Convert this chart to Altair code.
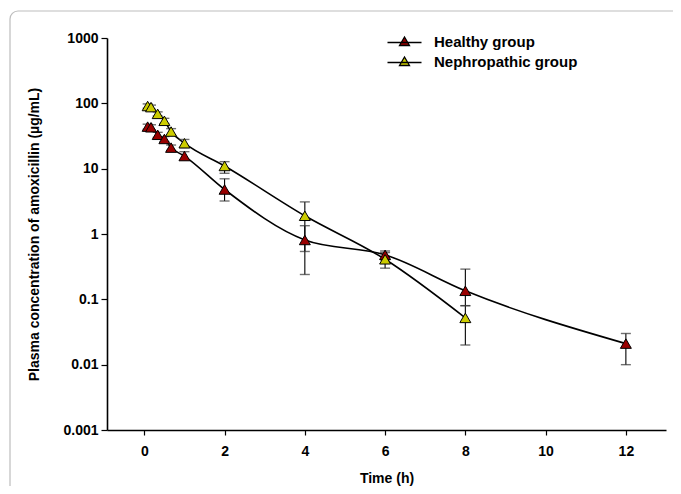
import altair as alt
import pandas as pd

# ---- data ----
groups = ["Healthy group", "Nephropathic group"]

healthy_t = [0.083, 0.167, 0.333, 0.5, 0.667, 1, 2, 4, 6, 8, 12]
healthy_c = [44, 43, 33, 28.5, 21, 15.6, 4.8, 0.81, 0.48, 0.135, 0.021]
healthy_lo = [40, 39, 30, 26, 19, 13.6, 3.2, 0.24, 0.40, 0.08, 0.010]
healthy_hi = [48, 47, 36, 31, 23, 18.2, 7.0, 1.34, 0.55, 0.29, 0.030]

neph_t = [0.083, 0.167, 0.333, 0.5, 0.667, 1, 2, 4, 6, 8]
neph_c = [91, 87.5, 69, 54, 37, 24.5, 11, 1.9, 0.41, 0.052]
neph_lo = [84, 81, 64, 49, 33, 21, 8.5, 0.54, 0.30, 0.020]
neph_hi = [98, 94, 74, 59, 41, 28, 12.8, 3.1, 0.52, 0.080]

x_ticks = [0, 2, 4, 6, 8, 10, 12]
y_ticks = [0.001, 0.01, 0.1, 1, 10, 100, 1000]
colors = ["#990000", "#CCCC00"]

rows = []
for g, ts, cs, lo, hi in [
    (groups[0], healthy_t, healthy_c, healthy_lo, healthy_hi),
    (groups[1], neph_t, neph_c, neph_lo, neph_hi),
]:
    for t, c, l, h in zip(ts, cs, lo, hi):
        rows.append({"group": g, "time": t, "conc": c, "lo": l, "hi": h})
df = pd.DataFrame(rows)

FONT = "Liberation Sans"

x_scale = alt.Scale(domain=[-0.93, 13], nice=False, zero=False)
y_scale = alt.Scale(type="log", domain=[0.001, 1000], nice=False)

x_enc = alt.X(
    "time:Q",
    scale=x_scale,
    axis=alt.Axis(
        values=x_ticks, title="Time (h)", grid=False, tickSize=5,
        labelPadding=9, titlePadding=13, format="d",
    ),
)
y_enc = alt.Y(
    "conc:Q",
    scale=y_scale,
    axis=alt.Axis(
        values=y_ticks, title="Plasma concentration of amoxicillin (\u00b5g/mL)",
        grid=False, tickSize=6, labelPadding=3, titlePadding=21,
        labelExpr="datum.value >= 1 ? format(datum.value, 'd') : format(datum.value, '~g')",
    ),
)

base = alt.Chart(df)

lines = base.mark_line(
    interpolate="monotone", color="black", strokeWidth=1.6
).encode(x=x_enc, y=y_enc, detail="group:N")

err = base.mark_rule(color="black", strokeWidth=1.1).encode(
    x="time:Q", y="lo:Q", y2="hi:Q"
)
caps_lo = base.mark_tick(color="#333333", thickness=1.4, size=10, orient="horizontal").encode(
    x="time:Q", y="lo:Q"
)
caps_hi = base.mark_tick(color="#333333", thickness=1.4, size=10, orient="horizontal").encode(
    x="time:Q", y="hi:Q"
)

legend_path = "M-3.4,0.2H3.4M-1,0.8L0,-0.9L1,0.8Z"
points = base.mark_point(
    shape="triangle-up", filled=True, size=120, stroke="black", strokeWidth=1, opacity=1
).encode(
    x="time:Q",
    y="conc:Q",
    color=alt.Color(
        "group:N",
        scale=alt.Scale(domain=groups, range=colors),
        legend=alt.Legend(
            title=None, orient="none", legendX=290, legendY=-4,
            symbolType=legend_path, symbolSize=100,
            symbolStrokeColor="black", symbolStrokeWidth=1.3,
            labelFont=FONT, labelFontSize=15, labelFontWeight="bold",
            labelColor="black", labelOffset=22, rowPadding=4,
        ),
    ),
)

frame = alt.Chart(pd.DataFrame({"k": [0]})).mark_rect(
    fill=None, stroke="#bdbdbd", strokeWidth=1.2, cornerRadius=8, clip=False
).encode(
    x=alt.value(-97), x2=alt.value(700), y=alt.value(-27), y2=alt.value(520)
)

chart = (
    alt.layer(frame, lines, err, caps_lo, caps_hi, points)
    .properties(
        width=559, height=392,
        autosize=alt.AutoSizeParams(type="none"),
        padding={"left": 99, "top": 30, "right": 7, "bottom": 56},
        background="white",
    )
    .configure_view(stroke=None)
    .configure_axis(
        domainColor="black", domainWidth=1.6, tickColor="black", tickWidth=1.2,
        labelFont=FONT, labelFontSize=14, labelFontWeight="bold", labelColor="black",
        titleFont=FONT, titleFontSize=14, titleFontWeight="bold", titleColor="black",
    )
)

chart.save("out.html", embed_options={"renderer": "svg", "actions": False})
